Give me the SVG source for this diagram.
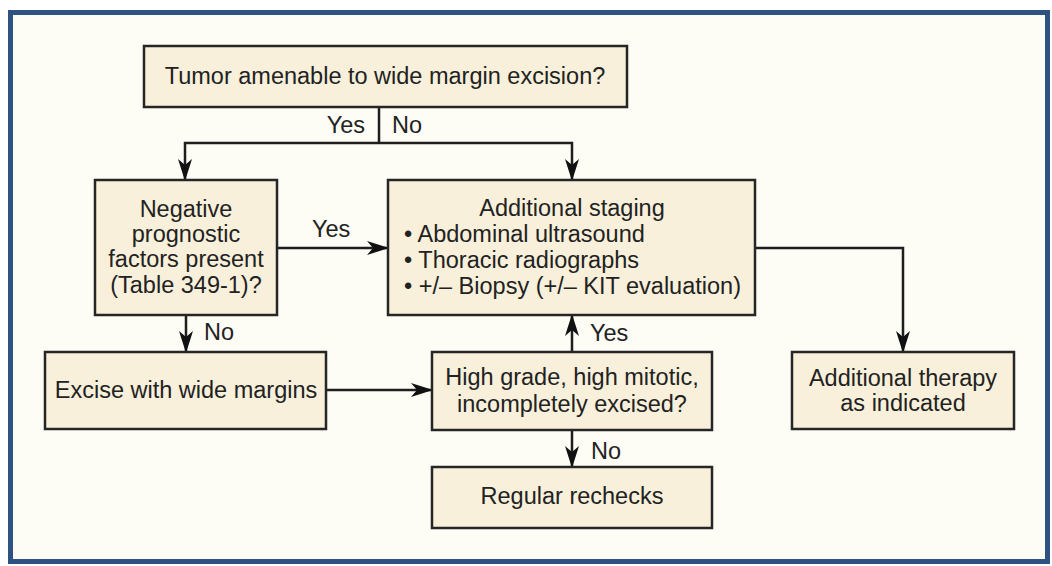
<svg xmlns="http://www.w3.org/2000/svg" width="1052" height="566" viewBox="0 0 1052 566">
  <style>
    .box { fill: #f8f0da; stroke: #262626; stroke-width: 2.5; }
    .line { fill: none; stroke: #1e1e1e; stroke-width: 2.5; }
    .arrow { marker-end: url(#head); }
    text { font-family: "Liberation Sans", Arial, sans-serif; font-size: 23.5px; fill: #222; }
    .c { text-anchor: middle; }
    .e { text-anchor: end; }
  </style>
  <defs>
    <marker id="head" viewBox="0 0 22 16" refX="21" refY="8" markerWidth="22" markerHeight="16" markerUnits="userSpaceOnUse" orient="auto">
      <path d="M0,1 L22,8 L0,15 L6,8 Z" fill="#111"/>
    </marker>
  </defs>

  <!-- page and frame -->
  <rect x="0" y="0" width="1052" height="566" fill="#ffffff"/>
  <rect x="10.5" y="12.5" width="1037" height="549" fill="#fdfcf5" stroke="#2e5382" stroke-width="5"/>

  <!-- connectors -->
  <g id="connectors">
    <path class="line" d="M379,107 V143"/>
    <path class="line arrow" d="M379,143 H185 V180"/>
    <path class="line arrow" d="M379,143 H572 V180"/>
    <path class="line arrow" d="M277,248 H388"/>
    <path class="line arrow" d="M755,248 H903 V352"/>
    <path class="line arrow" d="M186,315 V352"/>
    <path class="line arrow" d="M326,390 H432"/>
    <path class="line arrow" d="M572,352 V315"/>
    <path class="line arrow" d="M572,430 V467"/>
    <text class="e" x="365" y="133">Yes</text>
    <text x="392" y="133">No</text>
    <text x="312" y="237">Yes</text>
    <text x="204" y="340">No</text>
    <text x="590" y="341">Yes</text>
    <text x="591" y="459">No</text>
  </g>

  <g id="tumor">
    <rect class="box" x="144" y="46" width="483" height="61"/>
    <text class="c" x="385" y="84">Tumor amenable to wide margin excision?</text>
  </g>

  <g id="negative">
    <rect class="box" x="95" y="180" width="182" height="135"/>
    <text class="c" x="186" y="217">Negative</text>
    <text class="c" x="186" y="242">prognostic</text>
    <text class="c" x="186" y="267">factors present</text>
    <text class="c" x="186" y="293">(Table 349-1)?</text>
  </g>

  <g id="staging">
    <rect class="box" x="388" y="180" width="367" height="135"/>
    <text class="c" x="572" y="216">Additional staging</text>
    <text x="404" y="242">• Abdominal ultrasound</text>
    <text x="404" y="268">• Thoracic radiographs</text>
    <text x="404" y="294">• +/– Biopsy (+/– KIT evaluation)</text>
  </g>

  <g id="excise">
    <rect class="box" x="45" y="352" width="281" height="77"/>
    <text class="c" x="186" y="398">Excise with wide margins</text>
  </g>

  <g id="highgrade">
    <rect class="box" x="432" y="352" width="280" height="78"/>
    <text class="c" x="572" y="385">High grade, high mitotic,</text>
    <text class="c" x="572" y="412">incompletely excised?</text>
  </g>

  <g id="therapy">
    <rect class="box" x="792" y="352" width="222" height="77"/>
    <text class="c" x="903" y="386">Additional therapy</text>
    <text class="c" x="903" y="411">as indicated</text>
  </g>

  <g id="rechecks">
    <rect class="box" x="432" y="467" width="280" height="61"/>
    <text class="c" x="572" y="504">Regular rechecks</text>
  </g>
</svg>
